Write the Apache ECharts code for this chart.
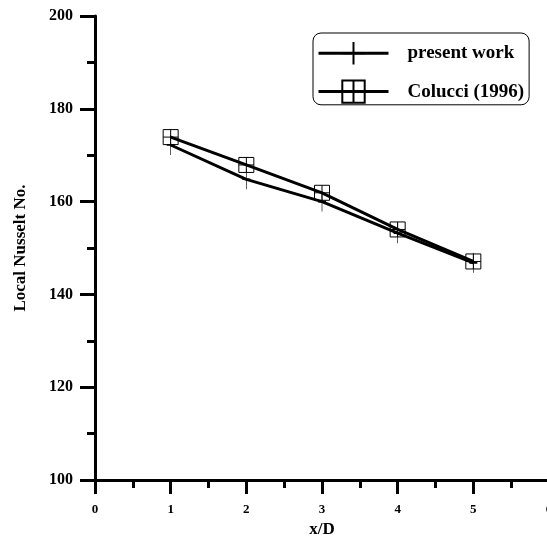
<!DOCTYPE html>
<html>
<head>
<meta charset="utf-8">
<script src="https://cdn.jsdelivr.net/npm/echarts@6/dist/echarts.min.js"></script>
<style>
  html, body { margin: 0; padding: 0; background: #fff; }
  #chart01 { width: 547px; height: 541px; }
</style>
</head>
<body>
<div id="chart01"></div>
<script>
var xValues = [1, 2, 3, 4, 5];
var presentWork = [172.2, 164.8, 160.0, 153.2, 146.8];
var colucci = [173.9, 167.9, 161.9, 154.0, 147.1];
var seriesNames = ['present work', 'Colucci (1996)'];

var FONT = '"Liberation Serif", "Times New Roman", serif';
var plusSymbol = 'path://M4,0 V20 M0,10 H8';
var boxSymbol = 'path://M0,0 H16 V16 H0 Z M8,0 V16 M0,8 H16';

function pairs(ys) {
  return xValues.map(function (x, i) { return [x, ys[i]]; });
}

var chart01 = echarts.init(document.getElementById('chart01'), null, { renderer: 'canvas' });

var option_c01 = {
  backgroundColor: '#fff',
  animation: false,
  textStyle: { fontFamily: FONT, fontWeight: 'bold', color: '#000' },
  grid: { left: 95, top: 16, bottom: 61, width: 454, outerBoundsMode: 'none', containLabel: false },

  legend: {
    orient: 'vertical',
    left: 313,
    top: 33,
    padding: [8, 5, 1, 4],
    itemWidth: 70,
    itemHeight: 28,
    itemGap: 14,
    borderColor: '#000',
    borderWidth: 1,
    borderRadius: 8,
    lineStyle: { width: 3, color: '#000' },
    textStyle: { fontFamily: FONT, fontWeight: 'bold', fontSize: 19, color: '#000', padding: [0, 0, 0, 14] },
    data: seriesNames
  },

  xAxis: {
    type: 'value',
    min: 0,
    max: 6,
    interval: 1,
    name: 'x/D',
    nameLocation: 'middle',
    nameGap: 39,
    nameTextStyle: { fontFamily: FONT, fontWeight: 'bold', fontSize: 17, color: '#000' },
    axisLine: { onZero: false, lineStyle: { color: '#000', width: 3 } },
    axisTick: { length: 14, lineStyle: { color: '#000', width: 3 } },
    minorTick: { show: true, splitNumber: 2, length: 8, lineStyle: { color: '#000', width: 3 } },
    axisLabel: { margin: 23, fontFamily: FONT, fontWeight: 'bold', fontSize: 13, color: '#000' },
    splitLine: { show: false }
  },

  yAxis: {
    type: 'value',
    min: 100,
    max: 200,
    interval: 20,
    name: 'Local Nusselt No.',
    nameLocation: 'middle',
    nameGap: 66,
    nameTextStyle: { fontFamily: FONT, fontWeight: 'bold', fontSize: 17, color: '#000' },
    axisLine: { show: true, onZero: false, lineStyle: { color: '#000', width: 3 } },
    axisTick: { show: true, length: 15, lineStyle: { color: '#000', width: 3 } },
    minorTick: { show: true, splitNumber: 2, length: 8, lineStyle: { color: '#000', width: 3 } },
    axisLabel: { margin: 22, fontFamily: FONT, fontWeight: 'bold', fontSize: 16, color: '#000' },
    splitLine: { show: false }
  },

  series: [
    {
      name: seriesNames[0],
      type: 'line',
      data: pairs(presentWork),
      symbol: plusSymbol,
      symbolSize: [8, 20],
      lineStyle: { color: '#000', width: 3 },
      itemStyle: { color: 'transparent', borderColor: '#000', borderWidth: 1 },
      emphasis: { disabled: true }
    },
    {
      name: seriesNames[1],
      type: 'line',
      data: pairs(colucci),
      symbol: boxSymbol,
      symbolSize: 15,
      lineStyle: { color: '#000', width: 3 },
      itemStyle: { color: 'transparent', borderColor: '#000', borderWidth: 1 },
      emphasis: { disabled: true }
    }
  ]
};

chart01.setOption(option_c01);
</script>
</body>
</html>
